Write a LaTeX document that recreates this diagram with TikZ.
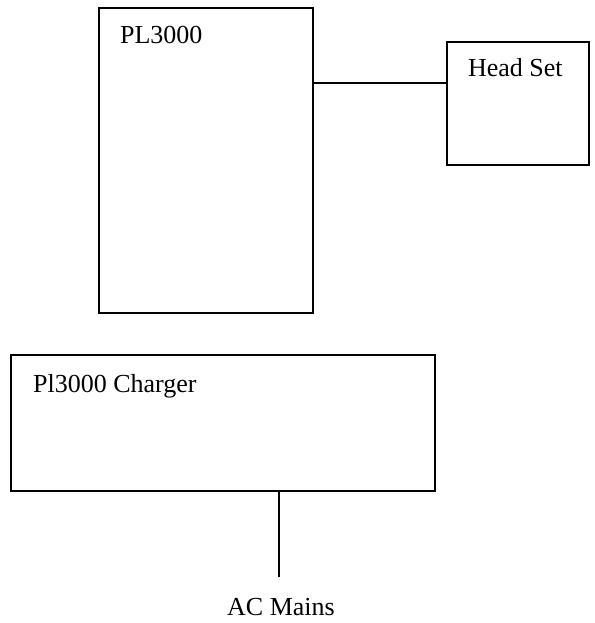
\documentclass[tikz,border=0pt]{standalone}
\usepackage{fontspec}
\setmainfont{Liberation Serif}
\usetikzlibrary{positioning}
\tikzset{
  unitbox/.style={draw, line width=2.2pt, inner sep=0pt},
  boxlabel/.style={anchor=base west, inner sep=0pt, font=\fontsize{26}{30}\selectfont},
}
\begin{document}
\begin{tikzpicture}[x=1pt, y=-1pt, line width=2.2pt]
        \useasboundingbox (0,0) rectangle (594,623);
        % the three boxes
        \node[unitbox, minimum width=214pt, minimum height=305pt] (pl) at (205.6,160.5) {};
        \node[unitbox, minimum width=142pt, minimum height=123pt] (hs) at (518,103.5) {};
        \node[unitbox, minimum width=424pt, minimum height=136pt] (charger) at (223,423) {};

        \path
        (119,44) node[boxlabel] (pltext) {PL3000}
        (467,77) node[boxlabel] (hstext) {Head Set}
        (32,392) node[boxlabel] (chtext) {Pl3000 Charger}
        (281,615) node[boxlabel, anchor=base] (mains) {AC Mains}
        ;

        \coordinate (jack) at (313,83);
        \coordinate (plug) at (279,577);

        \draw (pl.east |- jack) -- (hs.west |- jack);
        \draw (charger.south -| plug) -- (plug);
\end{tikzpicture}
\end{document}
